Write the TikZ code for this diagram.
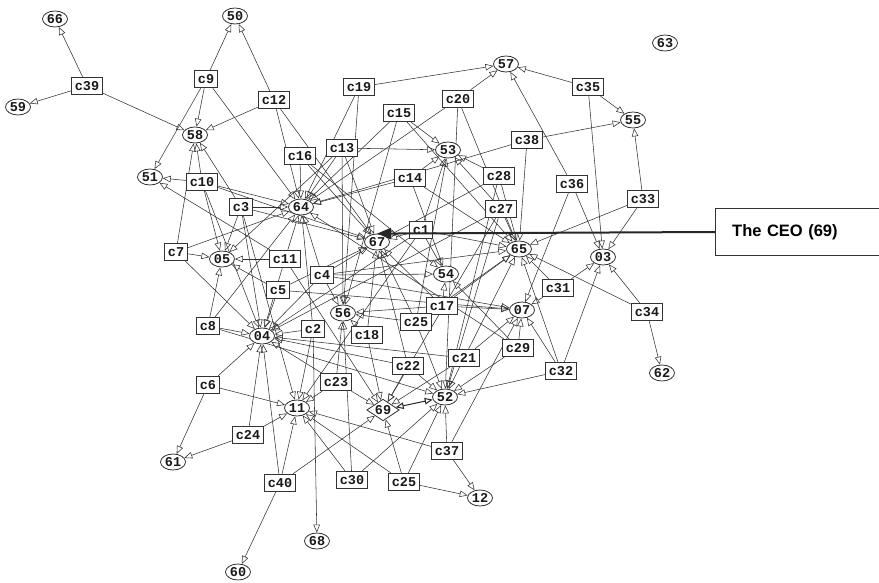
\documentclass[tikz,border=0pt]{standalone}
\usepackage{fontspec}
\setmainfont{Liberation Sans}
\newfontfamily\nodefont{Liberation Mono}
\usetikzlibrary{shapes.geometric,arrows.meta}
\pgfdeclarelayer{bg}
\pgfsetlayers{bg,main}
\begin{document}
\begin{tikzpicture}[x=1pt,y=-1pt,
  lbl/.style={font=\nodefont\bfseries\fontsize{13.5pt}{13.5pt}\selectfont, text=black!90},
  box/.style={lbl, draw=black!80, line width=0.9pt, fill=white, inner xsep=3.5pt, inner ysep=0pt, minimum height=17.5pt},
  ell/.style={lbl, ellipse, draw=black!80, line width=0.8pt, fill=white, inner sep=0pt, minimum width=25pt, minimum height=16pt},
  dia/.style={lbl, diamond, aspect=1.5, draw=black!80, line width=0.8pt, fill=white, inner sep=0.5pt},
  arr/.style={draw=black!80, line width=0.55pt, -{Triangle[open,length=8pt,width=6.5pt]}},
  biarr/.style={draw=black!85, line width=1pt, {Triangle[open,length=8pt,width=6.5pt]}-{Triangle[open,length=8pt,width=6.5pt]}},
  ceobox/.style={font=\bfseries\fontsize{16.5pt}{18pt}\selectfont, text width=140pt, align=left, inner xsep=17pt, minimum height=46pt, anchor=west},
  ceoline/.style={draw=black!85, line width=2pt, -{Triangle[length=14pt,width=11pt]}},
  frame/.style={draw=black!80, line width=1pt}
]
\useasboundingbox (0,0) rectangle (879,583);

% numbered nodes
\node[ell] (n66) at (55,19) {66};
\node[ell] (n50) at (235,16) {50};
\node[ell] (n59) at (18,107) {59};
\node[ell] (n58) at (195,135) {58};
\node[ell] (n51) at (150,177) {51};
\node[ell] (n63) at (665,43) {63};
\node[ell] (n57) at (506,64) {57};
\node[ell] (n55) at (633,120) {55};
\node[ell] (n53) at (448,150) {53};
\node[ell] (n64) at (301,207) {64};
\node[ell] (n67) at (377,242) {67};
\node[ell] (n65) at (519,249) {65};
\node[ell] (n03) at (603,257) {03};
\node[ell] (n05) at (222,259) {05};
\node[ell] (n54) at (446,274) {54};
\node[ell] (n07) at (522,310) {07};
\node[ell] (n56) at (343,313) {56};
\node[ell] (n04) at (262,336) {04};
\node[ell] (n11) at (297,408) {11};
\node[dia] (n69) at (383,410) {69};
\node[ell] (n52) at (445,397) {52};
\node[ell] (n62) at (662,373) {62};
\node[ell] (n61) at (173,462) {61};
\node[ell] (n12) at (480,498) {12};
\node[ell] (n68) at (317,541) {68};
\node[ell] (n60) at (238,572) {60};

% boxes
\node[box] (c39) at (87,86) {c39};
\node[box] (c9) at (206,79) {c9};
\node[box] (c12) at (274,100) {c12};
\node[box] (c19) at (359,87) {c19};
\node[box] (c15) at (399,113) {c15};
\node[box] (c20) at (458,99) {c20};
\node[box] (c35) at (588,87) {c35};
\node[box] (c38) at (527,140) {c38};
\node[box] (c16) at (300,156) {c16};
\node[box] (c13) at (342,148) {c13};
\node[box] (c10) at (202,182) {c10};
\node[box] (c14) at (410,178) {c14};
\node[box] (c28) at (499,176) {c28};
\node[box] (c36) at (572,184) {c36};
\node[box] (c33) at (643,199) {c33};
\node[box] (c3) at (241,207) {c3};
\node[box] (c27) at (501,209) {c27};
\node[box] (c1) at (421,230) {c1};
\node[box] (c7) at (176,252) {c7};
\node[box] (c11) at (285,259) {c11};
\node[box] (c4) at (322,275) {c4};
\node[box] (c5) at (278,290) {c5};
\node[box] (c17) at (442,306) {c17};
\node[box] (c31) at (558,288) {c31};
\node[box] (c34) at (647,312) {c34};
\node[box] (c25a) at (416,322) {c25};
\node[box] (c8) at (208,326) {c8};
\node[box] (c2) at (313,329) {c2};
\node[box] (c18) at (367,335) {c18};
\node[box] (c29) at (518,348) {c29};
\node[box] (c22) at (408,366) {c22};
\node[box] (c21) at (464,358) {c21};
\node[box] (c32) at (561,371) {c32};
\node[box] (c6) at (208,385) {c6};
\node[box] (c23) at (336,382) {c23};
\node[box] (c24) at (248,435) {c24};
\node[box] (c37) at (447,451) {c37};
\node[box] (c40) at (280,483) {c40};
\node[box] (c30) at (352,480) {c30};
\node[box] (c25b) at (404,482) {c25};

\begin{pgfonlayer}{bg}
\foreach \s/\t in {
  c39/n66, c39/n59, c39/n58,
  c9/n50, c9/n58, c9/n51, c9/n64,
  c12/n50, c12/n58, c12/n64, c12/n67,
  c10/n51, c10/n58, c10/n64, c10/n05, c10/n04, c10/n67,
  c3/n58, c3/n64, c3/n05, c3/n04, c3/n11, c3/n67,
  c7/n05, c7/n58, c7/n64, c7/n04,
  c11/n05, c11/n64, c11/n04, c11/n51, c11/n69,
  c16/n64, c16/n67, c16/n54,
  c13/n53, c13/n64, c13/n67, c13/n05, c13/n56,
  c19/n57, c19/n64, c19/n56,
  c15/n53, c15/n64, c15/n56, c15/n65,
  c20/n57, c20/n64, c20/n65, c20/n52,
  c35/n57, c35/n55, c35/n03,
  c38/n55, c38/n65, c38/n64,
  c14/n53, c14/n64, c14/n65, c14/n54,
  c28/n53, c28/n65, c28/n67, c28/n52,
  c27/n53, c27/n65, c27/n52, c27/n69, c27/n04,
  c36/n57, c36/n03, c36/n07,
  c33/n55, c33/n03, c33/n65,
  c1/n67, c1/n53, c1/n65, c1/n54, c1/n04, c1/n11,
  c4/n64, c4/n67, c4/n54, c4/n65, c4/n56, c4/n04, c4/n07,
  c5/n67, c5/n04, c5/n07, c5/n05,
  c17/n54, c17/n67, c17/n65, c17/n07, c17/n56,
  c31/n65, c31/n07, c31/n03,
  c34/n03, c34/n62, c34/n65,
  c25a/n67, c25a/n56, c25a/n52, c25a/n65, c25a/n53,
  c8/n05, c8/n04, c8/n64, c8/n52,
  c2/n04, c2/n11, c2/n64, c2/n68,
  c18/n56, c18/n67, c18/n69,
  c29/n07, c29/n52, c29/n54, c29/n64,
  c22/n52, c22/n67, c22/n04, c22/n69,
  c21/n52, c21/n65, c21/n07, c21/n69, c21/n04,
  c32/n52, c32/n07, c32/n03, c32/n65,
  c6/n04, c6/n11, c6/n61,
  c23/n11, c23/n69, c23/n56, c23/n04,
  c24/n61, c24/n11, c24/n04,
  c37/n12, c37/n52, c37/n11, c37/n07,
  c40/n60, c40/n11, c40/n04, c40/n69,
  c30/n11, c30/n52, c30/n56,
  c25b/n12, c25b/n52, c25b/n69, c25b/n11}
  \draw[arr] (\s) -- (\t);
\draw[biarr] (n69) -- (n52);
\end{pgfonlayer}

% annotation
\node[ceobox] (ceo) at (715,232) {The CEO (69)};
\draw[frame] (ceo.north east) -- (ceo.north west) -- (ceo.south west) -- (ceo.south east);
\draw[ceoline] (ceo.west) -- (n67.north);
\end{tikzpicture}
\end{document}
